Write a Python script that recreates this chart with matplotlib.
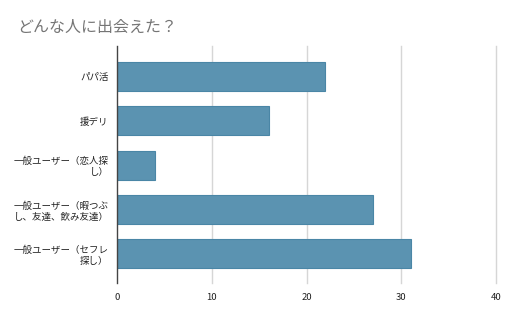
import matplotlib
matplotlib.use("Agg")
import matplotlib.pyplot as plt

plt.rcParams['font.family'] = ['Noto Sans CJK JP', 'DejaVu Sans']

# data
categories = ["パパ活", "援デリ", "一般ユーザー（恋人探\nし）",
              "一般ユーザー（暇つぶ\nし、友達、飲み友達）", "一般ユーザー（セフレ\n探し）"]
counts = [22, 16, 4, 27, 31]
xticks = [0, 10, 20, 30, 40]

fig = plt.figure(figsize=(5.12, 3.17), dpi=100)
ax = fig.add_axes([117/512, 1 - 283/317, (496-117)/512, (283-46)/317])

ypos = list(range(len(categories)))
ax.barh(ypos, counts, height=0.65, color="#5b93b1", edgecolor="#4a86a6", linewidth=0.8, zorder=3)

ax.set_xlim(0, 40)
ax.set_ylim(4.66, -0.69)
ax.set_xticks(xticks)
ax.set_xticklabels([str(t) for t in xticks])
ax.set_yticks(ypos)
ax.set_yticklabels(categories, ha="right", linespacing=1.25)

# vertical gridlines (last one sits on the axes edge, so no clipping)
for t in xticks[1:]:
    ax.axvline(t, color="#d6d6d6", linewidth=1, zorder=0, clip_on=False)
for s in ["top", "right", "bottom"]:
    ax.spines[s].set_visible(False)
ax.spines["left"].set_color("#444444")
ax.spines["left"].set_linewidth(1)
ax.spines["left"].set_zorder(4)
ax.tick_params(axis="both", length=0, labelsize=6.8, labelcolor="#222222")
ax.tick_params(axis="y", pad=6)
ax.tick_params(axis="x", pad=7)

fig.text(17/512, 1 - 27/317, "どんな人に出会えた？", fontsize=11.5, color="#757575", va="center", ha="left")

fig.savefig("out.png", dpi=100)
